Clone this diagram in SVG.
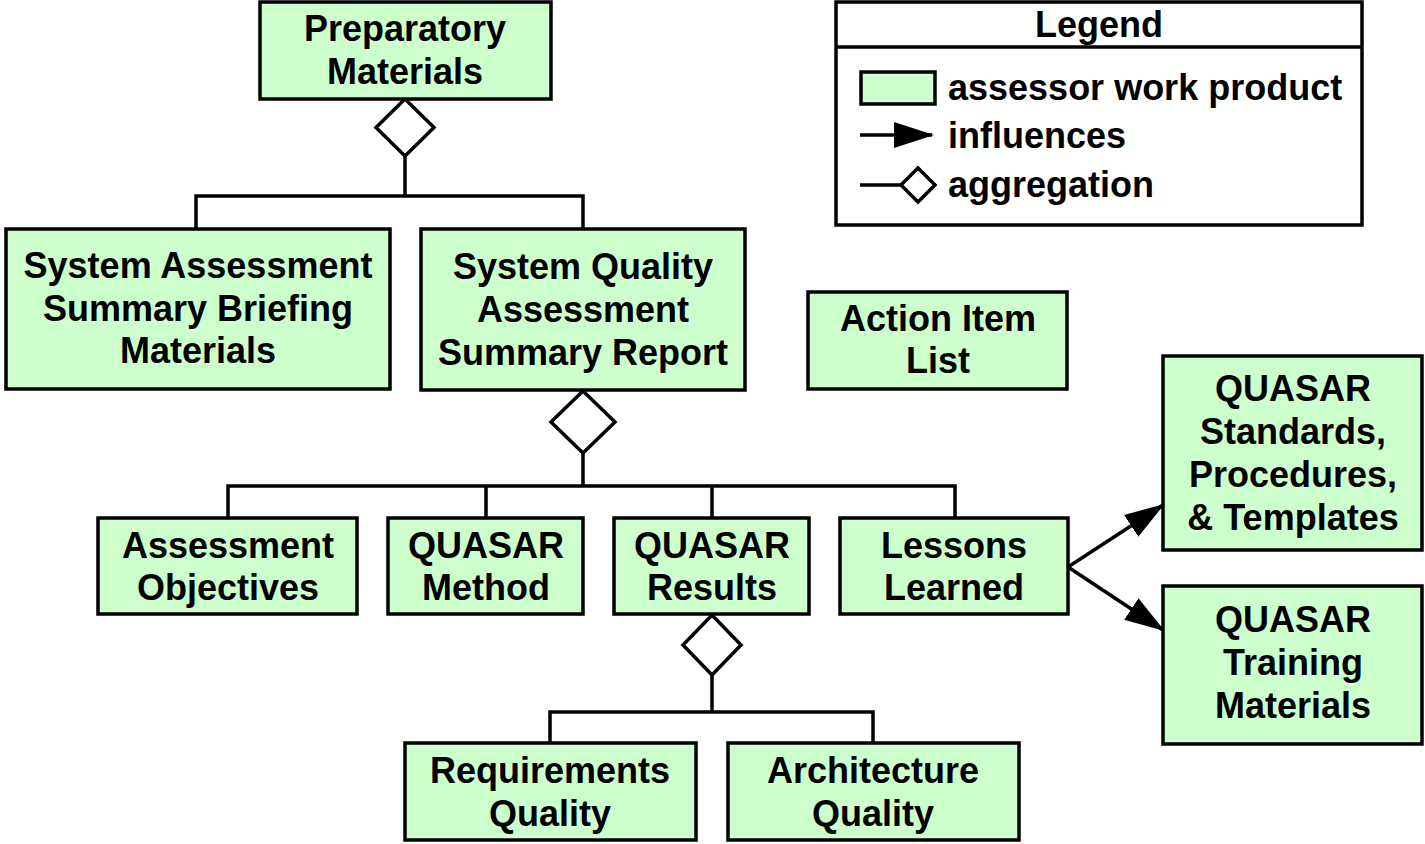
<svg xmlns="http://www.w3.org/2000/svg" width="1425" height="844" viewBox="0 0 1425 844">
<defs>
<style>
.box{fill:#CCFFCC;stroke:#000;stroke-width:3.5}
.t{font-family:"Liberation Sans",Arial,sans-serif;font-weight:bold;font-size:36px;text-anchor:middle;fill:#000}
.lt{font-family:"Liberation Sans",Arial,sans-serif;font-weight:bold;font-size:36px;fill:#000}
.ln{fill:none;stroke:#000;stroke-width:3.5}
.dia{fill:#fff;stroke:#000;stroke-width:3.5}
</style>
<marker id="arr" markerUnits="userSpaceOnUse" markerWidth="42" markerHeight="30" refX="38" refY="13" orient="auto" viewBox="0 0 42 26">
<path d="M0,0 L40,13 L0,26 Z" fill="#000"/>
</marker>
</defs>
<rect width="1425" height="844" fill="#fff"/>

<g id="connectors">
<path class="ln" d="M405,156 V196 M196,229 V196 H583 V229"/>
<path class="dia" d="M405,99 L434,127.5 L405,156 L376,127.5 Z"/>
<path class="ln" d="M583,453 V486 M228,518 V486 H955 V518 M486,486 V518 M712,486 V518"/>
<path class="dia" d="M583,391 L615,422 L583,453 L551,422 Z"/>
<path class="ln" d="M712,675 V712 M550,743 V712 H873 V743"/>
<path class="dia" d="M712,615 L741,645 L712,675 L683,645 Z"/>
<path class="ln" d="M1068,567 L1163,505" marker-end="url(#arr)"/>
<path class="ln" d="M1068,567 L1163,630" marker-end="url(#arr)"/>
</g>

<g id="prep">
<rect class="box" x="260" y="2" width="291" height="97"/>
<text class="t" x="405" y="41">Preparatory</text>
<text class="t" x="405" y="84">Materials</text>
</g>
<g id="briefing">
<rect class="box" x="6" y="229" width="384" height="160"/>
<text class="t" x="198" y="278">System Assessment</text>
<text class="t" x="198" y="321">Summary Briefing</text>
<text class="t" x="198" y="363">Materials</text>
</g>
<g id="report">
<rect class="box" x="421" y="229" width="324" height="161"/>
<text class="t" x="583" y="279">System Quality</text>
<text class="t" x="583" y="322">Assessment</text>
<text class="t" x="583" y="365">Summary Report</text>
</g>
<g id="actions">
<rect class="box" x="808" y="292" width="259" height="97"/>
<text class="t" x="938" y="331">Action Item</text>
<text class="t" x="938" y="373">List</text>
</g>
<g id="objectives">
<rect class="box" x="98" y="518" width="259" height="96"/>
<text class="t" x="228" y="558">Assessment</text>
<text class="t" x="228" y="600">Objectives</text>
</g>
<g id="method">
<rect class="box" x="388" y="518" width="195" height="96"/>
<text class="t" x="486" y="558">QUASAR</text>
<text class="t" x="486" y="600">Method</text>
</g>
<g id="results">
<rect class="box" x="614" y="518" width="195" height="96"/>
<text class="t" x="712" y="558">QUASAR</text>
<text class="t" x="712" y="600">Results</text>
</g>
<g id="lessons">
<rect class="box" x="840" y="518" width="228" height="96"/>
<text class="t" x="954" y="558">Lessons</text>
<text class="t" x="954" y="600">Learned</text>
</g>
<g id="standards">
<rect class="box" x="1163" y="356" width="259" height="194"/>
<text class="t" x="1293" y="401">QUASAR</text>
<text class="t" x="1293" y="444">Standards,</text>
<text class="t" x="1293" y="487">Procedures,</text>
<text class="t" x="1293" y="530">&amp; Templates</text>
</g>
<g id="training">
<rect class="box" x="1163" y="586" width="259" height="158"/>
<text class="t" x="1293" y="632">QUASAR</text>
<text class="t" x="1293" y="675">Training</text>
<text class="t" x="1293" y="718">Materials</text>
</g>
<g id="reqq">
<rect class="box" x="405" y="743" width="291" height="97"/>
<text class="t" x="550" y="783">Requirements</text>
<text class="t" x="550" y="826">Quality</text>
</g>
<g id="archq">
<rect class="box" x="728" y="743" width="291" height="97"/>
<text class="t" x="873" y="783">Architecture</text>
<text class="t" x="873" y="826">Quality</text>
</g>

<g id="legend">
<rect x="836" y="2" width="526" height="223" fill="#fff" stroke="#000" stroke-width="3.5"/>
<line class="ln" x1="836" y1="47" x2="1362" y2="47"/>
<text class="lt" x="1099" y="37" text-anchor="middle">Legend</text>
<rect class="box" x="861" y="72" width="74" height="32"/>
<text class="lt" x="948" y="100">assessor work product</text>
<path class="ln" d="M860,135 H932" marker-end="url(#arr)"/>
<text class="lt" x="948" y="148">influences</text>
<path class="ln" d="M860,185 H901"/>
<path class="dia" d="M901,185 L918,168 L935,185 L918,202 Z"/>
<text class="lt" x="948" y="197">aggregation</text>
</g>
</svg>
